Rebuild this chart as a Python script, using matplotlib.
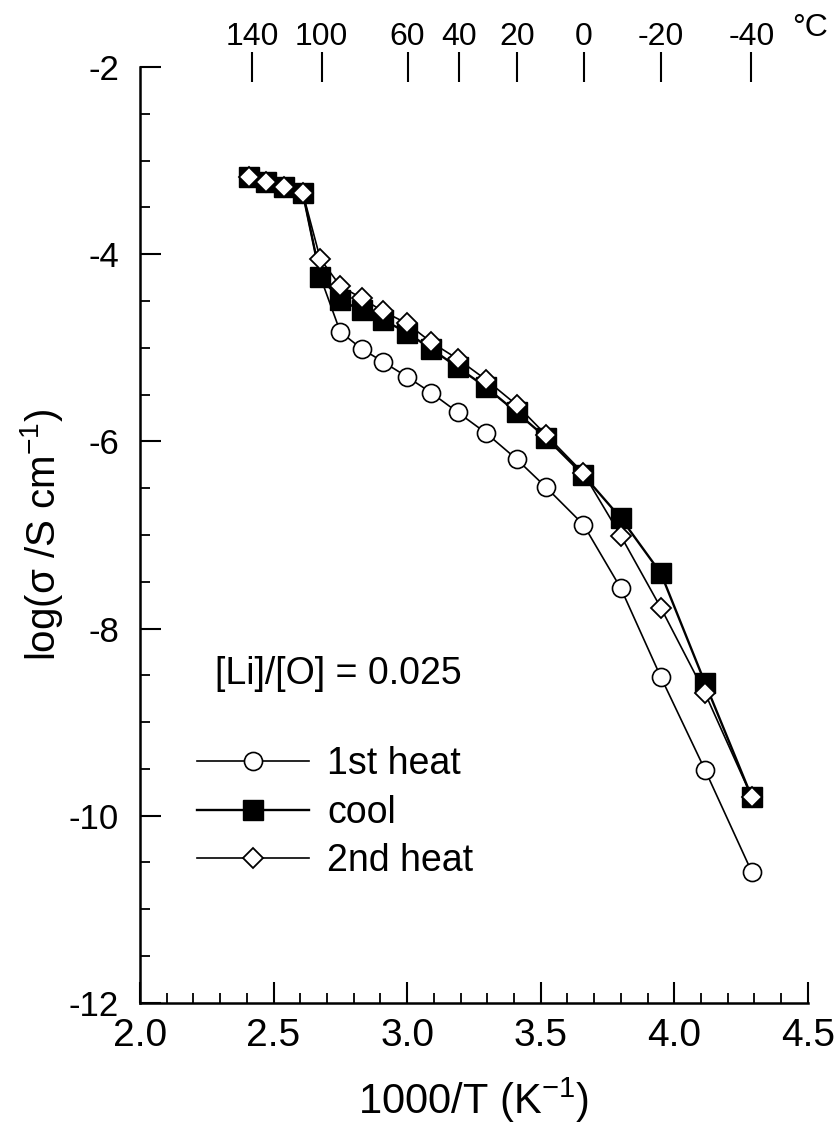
import numpy as np
import matplotlib
matplotlib.use("Agg")
import matplotlib.pyplot as plt
from matplotlib.ticker import MultipleLocator
from matplotlib.lines import Line2D

plt.rcParams['font.family'] = ['Liberation Sans', 'DejaVu Sans']
plt.rcParams['mathtext.fontset'] = 'custom'
plt.rcParams['mathtext.rm'] = 'Liberation Sans'
plt.rcParams['mathtext.it'] = 'Liberation Sans'
plt.rcParams['axes.unicode_minus'] = False

# 1000/T (K^-1)
inv_T = [2.41, 2.47, 2.54, 2.61, 2.675, 2.75, 2.83, 2.91, 3.00, 3.09,
         3.19, 3.295, 3.41, 3.52, 3.66, 3.80, 3.95, 4.115, 4.29]

# log(sigma / S cm^-1)
heat1 = [-3.17, -3.23, -3.28, -3.35, -4.24, -4.83, -5.01, -5.15, -5.31, -5.48,
         -5.69, -5.91, -6.19, -6.49, -6.89, -7.57, -8.52, -9.51, -10.60]
cool = [-3.17, -3.23, -3.28, -3.35, -4.24, -4.49, -4.60, -4.70, -4.84, -5.01,
        -5.21, -5.42, -5.69, -5.96, -6.36, -6.82, -7.41, -8.58, -9.80]
heat2 = [-3.17, -3.23, -3.28, -3.35, -4.05, -4.34, -4.47, -4.61, -4.74, -4.94,
         -5.12, -5.34, -5.61, -5.93, -6.34, -7.01, -7.78, -8.69, -9.80]

# top axis: temperature in deg C
temps_C = [140, 100, 60, 40, 20, 0, -20, -40]

fig = plt.figure(figsize=(8.38, 11.28), dpi=100)
ax = fig.add_axes([0.167, 0.111, 0.797, 0.8295])

ax.plot(inv_T, heat1, '-o', color='black', lw=1.2, ms=13,
        mfc='white', mec='black', mew=1.2, zorder=2)
ax.plot(inv_T, cool, '-s', color='black', lw=1.7, ms=14,
        mfc='black', mec='black', zorder=3)
ax.plot(inv_T, heat2, '-D', color='black', lw=1.2, ms=10,
        mfc='white', mec='black', mew=1.3, zorder=4)

ax.set_xlim(2.0, 4.5)
ax.set_ylim(-12, -2)

for s in ['top', 'right']:
    ax.spines[s].set_visible(False)
for s in ['left', 'bottom']:
    ax.spines[s].set_linewidth(1.8)

ax.xaxis.set_major_locator(MultipleLocator(0.5))
ax.xaxis.set_minor_locator(MultipleLocator(0.1))
ax.yaxis.set_major_locator(MultipleLocator(2))
ax.yaxis.set_minor_locator(MultipleLocator(0.5))
ax.xaxis.set_major_formatter(matplotlib.ticker.FormatStrFormatter('%.1f'))
ax.yaxis.set_major_formatter(matplotlib.ticker.FormatStrFormatter('%d'))

ax.tick_params(axis='both', which='major', direction='in', length=15, width=1.5)
ax.tick_params(axis='both', which='minor', direction='in', length=7, width=1.3)
ax.tick_params(axis='x', which='major', labelsize=28, pad=11)
ax.tick_params(axis='y', which='major', labelsize=25, pad=15)
ax.tick_params(top=False, right=False, which='both')

ax.set_xlabel('1000/T (K$^{-1}$)', fontsize=30)
ax.xaxis.set_label_coords(0.5, -0.078)
ax.set_ylabel('log(σ /S cm$^{-1}$)', fontsize=29)
ax.yaxis.set_label_coords(-0.112, 0.5)

# top temperature scale
top = ax.twiny()
top.set_xlim(ax.get_xlim())
top_pos = [1000.0 / (t + 273.15) for t in temps_C]
top.set_xticks(top_pos)
top.set_xticklabels([str(t) for t in temps_C])
top.xaxis.set_minor_locator(matplotlib.ticker.NullLocator())
top.tick_params(axis='x', direction='inout', length=22, width=1.5,
                labelsize=23, pad=0)
for s in top.spines.values():
    s.set_visible(False)
top.text(4.44, 1.033, '°C', transform=top.get_xaxis_transform(),
         fontsize=23, ha='left', va='baseline')

ax.text(0.112, 0.351, '[Li]/[O] = 0.025', transform=ax.transAxes,
        fontsize=27, ha='left', va='center')

handles = [
    Line2D([], [], color='black', lw=1.2, marker='o', ms=13,
           mfc='white', mec='black', mew=1.2),
    Line2D([], [], color='black', lw=1.7, marker='s', ms=14,
           mfc='black', mec='black'),
    Line2D([], [], color='black', lw=1.2, marker='D', ms=10,
           mfc='white', mec='black', mew=1.3),
]
ax.legend(handles, ['1st heat', 'cool', '2nd heat'], loc='upper left',
          bbox_to_anchor=(0.085, 0.274), frameon=False, fontsize=27,
          handlelength=3.0, handletextpad=0.48, labelspacing=0.33,
          borderpad=0, borderaxespad=0, numpoints=1)

fig.savefig('out.png', dpi=100)
